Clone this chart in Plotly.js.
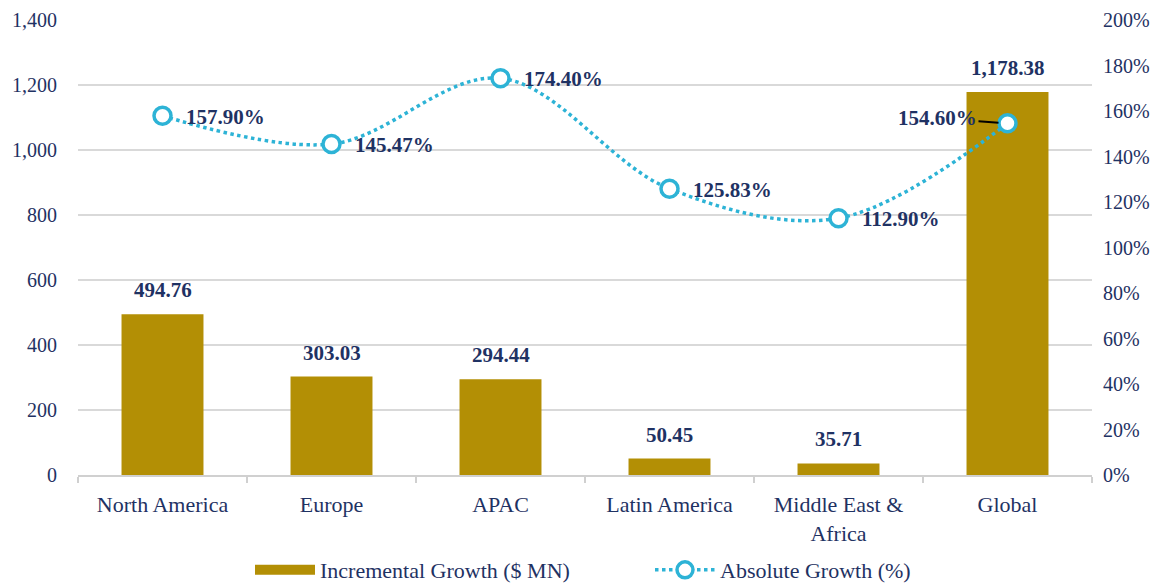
<!DOCTYPE html>
<html><head><meta charset="utf-8">
<script src="https://cdn.plot.ly/plotly-3.0.1.min.js"></script>
<style>html,body{margin:0;padding:0;background:#fff}#c{width:1167px;height:585px}</style>
</head><body><div id="c"></div>
<script>
var categories = ["North America", "Europe", "APAC", "Latin America", "Middle East &<br>Africa", "Global"];
var incremental = [494.76, 303.03, 294.44, 50.45, 35.71, 1178.38];
var absolute = [157.90, 145.47, 174.40, 125.83, 112.90, 154.60];
var leftTicks = [0, 200, 400, 600, 800, 1000, 1200, 1400];
var rightTicks = [0, 20, 40, 60, 80, 100, 120, 140, 160, 180, 200];

var navy = "#1F3263";
var gold = "#B38F05";
var cyan = "#2DB3D6";
var font = "Liberation Serif, DejaVu Serif, serif";

var barLabels = incremental.map(function(v){return v.toLocaleString("en-US",{minimumFractionDigits:2,maximumFractionDigits:2});});
var lineLabels = absolute.map(function(v){return v.toFixed(2)+"%";});
var lastIdx = absolute.length - 1;

var traces = [
  {type:"bar", x:categories, y:incremental, name:"Incremental Growth ($ MN)",
   marker:{color:gold}, width:0.485, showlegend:false},
  {type:"scatter", mode:"lines", x:[null], y:[null], name:"Incremental Growth ($ MN)",
   line:{color:gold, width:10}, showlegend:true, hoverinfo:"skip"},
  {type:"scatter", mode:"lines+markers", x:categories, y:absolute, yaxis:"y2",
   name:"Absolute Growth (%)", cliponaxis:false,
   line:{color:cyan, width:3.5, dash:"dot", shape:"spline", smoothing:1},
   marker:{symbol:"circle", size:17, color:"#ffffff", line:{color:cyan, width:3.5}}}
];

var annotations = [];
incremental.forEach(function(v,i){
  annotations.push({x:categories[i], y:v, xref:"x", yref:"y", yanchor:"bottom", yshift:10,
    text:"<b>"+barLabels[i]+"</b>", showarrow:false, font:{family:font, size:21, color:navy}});
});
absolute.forEach(function(v,i){
  if (i === lastIdx) return;
  annotations.push({x:categories[i], y:v, xref:"x", yref:"y2", xanchor:"left", xshift:21, yshift:-1,
    text:"<b>"+lineLabels[i]+"</b>", showarrow:false, font:{family:font, size:21, color:navy}});
});
annotations.push({x:categories[lastIdx], y:absolute[lastIdx], xref:"x", yref:"y2",
  text:"<b>"+lineLabels[lastIdx]+"</b>", showarrow:true, arrowhead:0, arrowwidth:2,
  arrowcolor:"#000", ax:-70, ay:-5, standoff:9, font:{family:font, size:21, color:navy}});

var layout = {
  width:1167, height:585,
  margin:{l:78, r:75, t:20, b:110},
  paper_bgcolor:"#fff", plot_bgcolor:"#fff",
  font:{family:font, color:navy, size:20},
  xaxis:{type:"category", showline:true, linecolor:"#d0d0d0", linewidth:2,
         ticks:"outside", tickson:"boundaries", ticklen:6, tickcolor:"#d0d0d0", tickwidth:2,
         tickfont:{family:font, size:22, color:navy}, showgrid:false, ticklabelstandoff:9},
  yaxis:{range:[0,1400], tickvals:leftTicks, ticktext:leftTicks.map(function(v){return v.toLocaleString("en-US");}),
         showgrid:true, gridcolor:"#d9d9d9", gridwidth:1.5, zeroline:false,
         tickfont:{family:font, size:20, color:navy}, ticks:"", ticklabelstandoff:20},
  yaxis2:{range:[0,200], overlaying:"y", side:"right", tickvals:rightTicks,
          ticktext:rightTicks.map(function(v){return v+"%";}), showgrid:false, zeroline:false,
          tickfont:{family:font, size:20, color:navy}, ticklabelstandoff:10},
  showlegend:true,
  legend:{orientation:"h", xref:"container", yref:"container", x:250/1167, xanchor:"left", y:15/585, yanchor:"middle",
          font:{family:font, size:22, color:navy}, itemwidth:60, entrywidth:325, traceorder:"normal"},
  annotations:annotations
};

Plotly.newPlot("c", traces, layout, {displayModeBar:false, staticPlot:true});
</script></body></html>
